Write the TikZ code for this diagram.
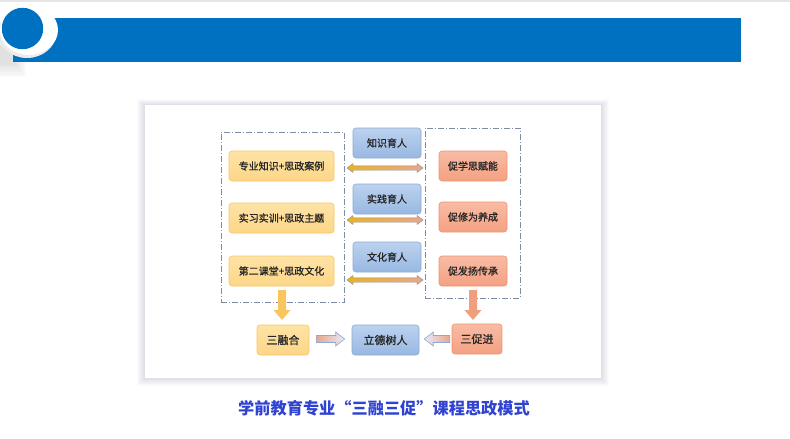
\documentclass[tikz,border=0pt]{standalone}
\usepackage{fontspec}
\newfontfamily\cjk{Noto Sans CJK SC}
\newfontfamily\cjkm[FakeBold=1.1]{Noto Sans CJK SC}
\usetikzlibrary{calc}
\definecolor{barblue}{HTML}{0070C0}
\definecolor{orfill}{HTML}{FDD688}
\definecolor{ortop}{HTML}{FEE3A6}
\definecolor{ordraw}{HTML}{F6C766}
\definecolor{blfill}{HTML}{98B8E2}
\definecolor{bltop}{HTML}{BCD2EE}
\definecolor{bldraw}{HTML}{8DAAD6}
\definecolor{safill}{HTML}{F4A082}
\definecolor{satop}{HTML}{F8BCA4}
\definecolor{sadraw}{HTML}{EE9373}
\definecolor{dashcol}{HTML}{7E8EA6}
\definecolor{gold}{HTML}{E9B325}
\definecolor{lblue}{HTML}{AFC3F4}
\definecolor{salm}{HTML}{EAA68C}
\definecolor{capblue}{HTML}{2F42D2}
\definecolor{pale}{HTML}{E4ECFA}
\definecolor{downor}{HTML}{F9C65E}
\definecolor{downsa}{HTML}{F09E7E}
\newcommand\dblarr[2]{%
  \shadedraw[dblarrow] let \p1=(#1), \p2=(#2) in
  (\x1,\y1) -- (\x1+6pt,\y1+4.5pt) -- (\x1+6pt,\y1+2.2pt) -- (\x2-6pt,\y1+2.2pt)
  -- (\x2-6pt,\y1+4.5pt) -- (\x2,\y1) -- (\x2-6pt,\y1-4.5pt) -- (\x2-6pt,\y1-2.2pt)
  -- (\x1+6pt,\y1-2.2pt) -- (\x1+6pt,\y1-4.5pt) -- cycle;}
\newcommand\harr[3]{%
  \shadedraw[#3] let \p1=(#1), \p2=(#2), \p3=($(#2)!9pt!(#1)$) in
  (\x1,\y1+3.5pt) -- (\x3,\y1+3.5pt) -- (\x3,\y1+7pt) -- (\x2,\y1)
  -- (\x3,\y1-7pt) -- (\x3,\y1-3.5pt) -- (\x1,\y1-3.5pt) -- cycle;}
\newcommand\varr[3]{%
  \fill[#3] let \p1=(#1), \p2=(#2), \p3=($(#2)!10pt!(#1)$) in
  (\x1-4pt,\y1) -- (\x1-4pt,\y3) -- (\x1-8.5pt,\y3) -- (\x1,\y2)
  -- (\x1+8.5pt,\y3) -- (\x1+4pt,\y3) -- (\x1+4pt,\y1) -- cycle;}
\begin{document}
\begin{tikzpicture}[x=1pt,y=-1pt,
  box/.style={rounded corners=3pt, line width=0.6pt, inner sep=0pt,
    minimum height=30pt, font=\cjkm\fontsize{10}{12}\selectfont, text=black!85},
  orbox/.style={box, draw=ordraw, top color=ortop, bottom color=orfill, minimum width=105pt},
  blbox/.style={box, draw=bldraw, top color=bltop, bottom color=blfill, minimum width=68pt},
  sabox/.style={box, draw=sadraw, top color=satop, bottom color=safill, minimum width=68pt},
  bigtxt/.style={font=\cjkm\fontsize{11}{13}\selectfont},
  dashbox/.style={draw=dashcol, line width=0.9pt, dash pattern=on 6pt off 2pt on 1pt off 2pt, inner sep=0pt},
  dblarrow/.style={draw=black!45, line width=0.4pt, left color=gold, middle color=lblue, right color=salm},
  softshade/.style={fill=black!60!blue, opacity=0.014},
]
\useasboundingbox (0,0) rectangle (790,439);
\fill[white] (0,0) rectangle (790,439);
\fill[black!10] (0,0) rectangle (790,2);
% header bar and circle
\foreach \i in {1,...,6} {\fill[fill=black, opacity=0.02] (0,40+\i) rectangle (14+\i*2,62+\i*2.5);}
\fill[barblue] (12.5,18) rectangle (741,61.5);
\fill[black!8] (27,33) ellipse (29 and 25);
\fill[white] (29,30) ellipse (29 and 25);
\fill[barblue] (22.5,28.5) circle (20.7);
% card with soft shadow
\foreach \i in {1,...,8} {\fill[softshade] (145-\i,105-\i*0.7) rectangle (601+\i,378+\i);}
\fill[white] (145,105) rectangle (601,378);
% dashed groups
\node[dashbox, minimum width=123pt, minimum height=170pt] (L) at (282.5,217) {};
\node[dashbox, minimum width=95pt, minimum height=170pt] (R) at (472.5,213) {};
% left boxes
\node[orbox] (o1) at (281.5,166) {专业知识+思政案例};
\node[orbox] (o2) at (281.5,218) {实习实训+思政主题};
\node[orbox] (o3) at (281.5,271) {第二课堂+思政文化};
% middle boxes
\node[blbox] (b1) at (387,143) {知识育人};
\node[blbox] (b2) at (387,199) {实践育人};
\node[blbox] (b3) at (387,257) {文化育人};
% right boxes
\node[sabox] (s1) at (473,166) {促学思赋能};
\node[sabox] (s2) at (473,217) {促修为养成};
\node[sabox] (s3) at (473,271) {促发扬传承};
% bottom row
\node[orbox, minimum width=52pt, bigtxt] (m1) at (283,340) {三融合};
\node[blbox, minimum width=67pt, bigtxt] (m2) at (385.5,340) {立德树人};
\node[sabox, minimum width=50pt, bigtxt] (m3) at (477,339) {三促进};
% double arrows
\coordinate (d1a) at (347,168); \coordinate (d1b) at (423,168);
\coordinate (d2a) at (347,220); \coordinate (d2b) at (423,220);
\coordinate (d3a) at (347,280); \coordinate (d3b) at (423,280);
\dblarr{d1a}{d1b}
\dblarr{d2a}{d2b}
\dblarr{d3a}{d3b}
% down arrows
\coordinate (v1a) at (282,290); \coordinate (v1b) at (282,320);
\coordinate (v2a) at (473,290); \coordinate (v2b) at (473,320);
\varr{v1a}{v1b}{downor}
\varr{v2a}{v2b}{downsa}
% horizontal arrows to centre
\harr{$(m1.east)+(7,-1)$}{$(m2.west)+(-7,-1)$}{draw=bldraw, line width=0.6pt, left color=salm, right color=pale}
\harr{$(m3.west)+(-2,0)$}{$(m2.east)+(5,0)$}{draw=bldraw, line width=0.6pt, right color=salm, left color=pale}
% caption
\node[font=\cjk\bfseries\fontsize{16.2}{19}\selectfont, text=capblue] (cap) at (384,408) {学前教育专业“三融三促”课程思政模式};
\end{tikzpicture}
\end{document}
